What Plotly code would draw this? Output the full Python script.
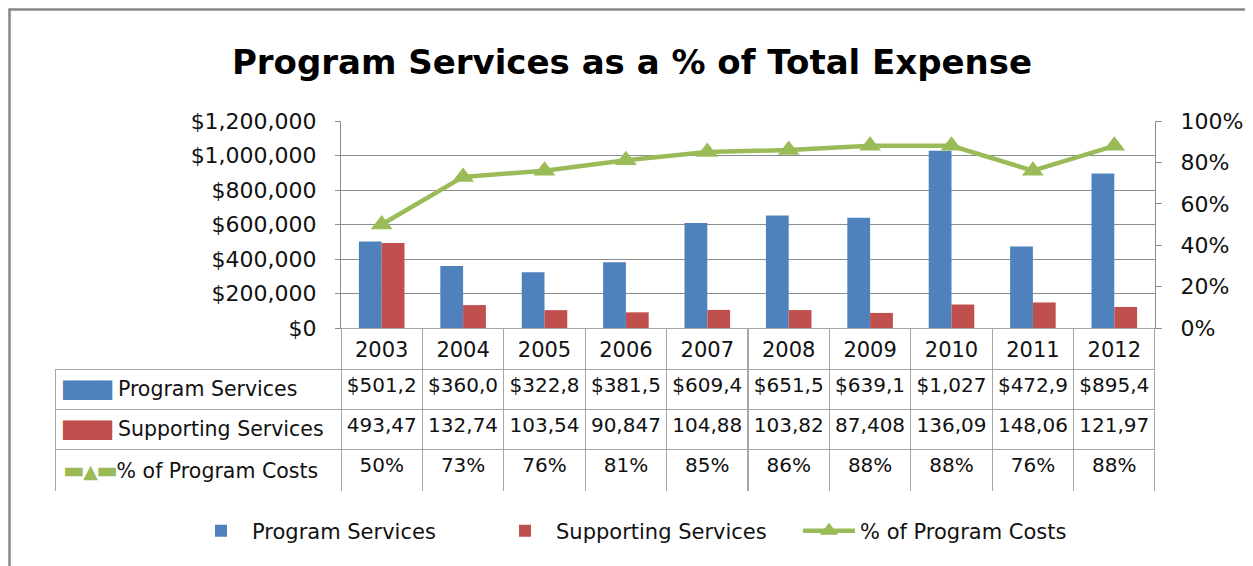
import plotly.graph_objects as go

W, H = 1253, 566
OFF = 8  # page offset of the figure inside the browser window

years = ["2003", "2004", "2005", "2006", "2007", "2008", "2009", "2010", "2011", "2012"]
program_services = [501200, 360000, 322800, 381500, 609400, 651500, 639100, 1027000, 472900, 895400]
supporting_services = [493470, 132740, 103540, 90847, 104880, 103820, 87408, 136090, 148060, 121970]
pct_program = [50, 73, 76, 81, 85, 86, 88, 88, 76, 88]

BLUE = "#4F81BD"
RED = "#C0504D"
GREEN = "#9BBB59"
GRID = "#8C8C8C"
TGRID = "#A6A6A6"
TXT = "#111111"
FONT = "DejaVu Sans, sans-serif"


def fx(x):
    return (x - OFF) / W


def fy(y):
    return 1 - (y - OFF) / H


# layout geometry (reference pixels)
plot_l, plot_r, plot_t, plot_b = 341, 1155, 121, 328
tab_l, tab_b = 55, 492
label_w = plot_l - tab_l
col_w = (plot_r - plot_l) / len(years)

fig = go.Figure()
fig.add_trace(go.Bar(x=years, y=program_services, name="Program Services",
                     marker=dict(color=BLUE, line=dict(width=0))))
fig.add_trace(go.Bar(x=years, y=supporting_services, name="Supporting Services",
                     marker=dict(color=RED, line=dict(width=0))))
fig.add_trace(go.Scatter(x=years, y=pct_program, name="% of Program Costs", yaxis="y2",
                         mode="lines+markers",
                         line=dict(color=GREEN, width=4.5),
                         marker=dict(symbol="triangle-up", size=19, color=GREEN)))

# data table
prog_txt = [f"${v:,.0f}"[:6] for v in program_services]
supp_txt = [f"{v:,.0f}"[:6] for v in supporting_services]
pct_txt = [f"{v}%" for v in pct_program]
SW = "font-size:16.5px;letter-spacing:-0.6px"
LN = "font-size:23px;letter-spacing:-1.5px"
# the trailing <br> keeps plotly from word-wrapping (and breaking) the markup
labels = [
    f'<span style="color:{BLUE};{SW}">████</span> Program Services<br>',
    f'<span style="color:{RED};{SW}">████</span> Supporting Services<br>',
    f'<span style="color:{GREEN};{LN}">▬</span>'
    f'<span style="color:{GREEN};font-size:19px;letter-spacing:-1.5px">▲</span>'
    f'<span style="color:{GREEN};{LN}">▬</span>'
    f'<span style="letter-spacing:0px">% of Program Costs</span><br>',
]
cols = [labels] + [[p, s, c] for p, s, c in zip(prog_txt, supp_txt, pct_txt)]
fig.add_trace(go.Table(
    domain=dict(x=[fx(tab_l), fx(plot_r)], y=[fy(tab_b), fy(plot_b)]),
    columnwidth=[label_w] + [col_w] * len(years),
    header=dict(values=[""] * (len(years) + 1), height=41,
                line=dict(color=["rgba(0,0,0,0)"] + [TGRID] * len(years), width=1),
                fill=dict(color="rgba(0,0,0,0)"), align="center",
                font=dict(family=FONT, size=21, color=TXT)),
    cells=dict(values=cols, height=40,
               line=dict(color=TGRID, width=1),
               fill=dict(color="white"),
               align=["left"] + ["center"] * len(years),
               font=dict(family=FONT, size=[20.5] + [20] * len(years), color=TXT)),
))

fig.update_layout(
    width=W, height=H,
    margin=dict(l=0, r=0, t=0, b=0, autoexpand=False),
    paper_bgcolor="white", plot_bgcolor="white",
    font=dict(family=FONT, size=21, color=TXT),
    title=dict(text="<b>Program Services as a % of Total Expense</b>",
               x=fx(632), xanchor="center", y=fy(62), yanchor="middle",
               font=dict(family=FONT, size=34, color="black")),
    barmode="group", bargap=0.44, bargroupgap=0,
    showlegend=True,
    legend=dict(orientation="h", x=fx(190), xanchor="left", y=fy(531), yanchor="middle",
                font=dict(family=FONT, size=21, color=TXT),
                traceorder="normal", itemwidth=52,
                entrywidth=237, entrywidthmode="pixels"),
    xaxis=dict(domain=[fx(plot_l), fx(plot_r)], range=[-0.5, len(years) - 0.5],
               showticklabels=True, ticks="", ticklabelstandoff=3,
               tickfont=dict(family=FONT, size=21, color=TXT),
               showline=True, linecolor=GRID, linewidth=1, showgrid=False,
               anchor="y", fixedrange=True),
    yaxis=dict(domain=[fy(plot_b), fy(plot_t)], range=[0, 1200000],
               dtick=200000, tickprefix="$", tickformat=",.0f",
               showgrid=True, gridcolor=GRID, gridwidth=1,
               showline=True, linecolor=GRID, linewidth=1,
               ticks="outside", ticklen=5, tickcolor=GRID, zeroline=False,
               ticklabelstandoff=14,
               tickfont=dict(family=FONT, size=22, color=TXT)),
    yaxis2=dict(overlaying="y", side="right", range=[0, 100], dtick=20, ticksuffix="%",
                showgrid=False, showline=True, linecolor=GRID, linewidth=1,
                ticks="outside", ticklen=6, tickcolor=GRID, zeroline=False,
                anchor="x", ticklabelstandoff=14,
                tickfont=dict(family=FONT, size=22, color=TXT)),
    shapes=[dict(type="rect", xref="paper", yref="paper",
                 x0=fx(9.5), x1=1.02, y0=-0.05, y1=fy(9.5),
                 line=dict(color="#868686", width=2.5))],
)

fig.write_html("out.html")
